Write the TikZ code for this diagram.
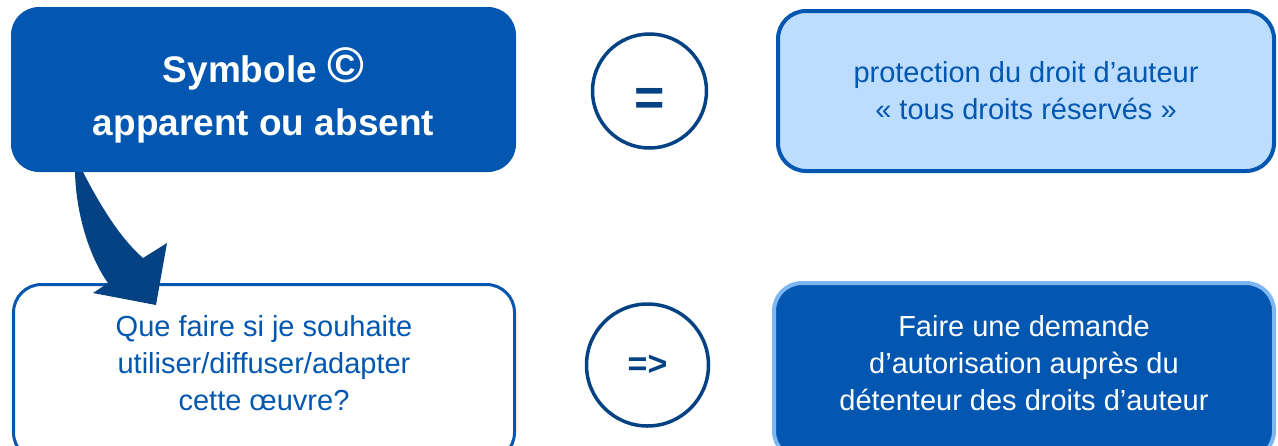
\documentclass[tikz,border=0pt]{standalone}
\usepackage{fontspec}
\setmainfont{Liberation Sans}

\definecolor{mainblue}{RGB}{3,87,176}
\definecolor{navy}{RGB}{4,66,132}
\definecolor{paleblue}{RGB}{189,221,255}
\definecolor{edgeblue}{RGB}{125,182,240}

\tikzset{
  box/.style={rounded corners=28pt, align=center, inner sep=0pt,
    minimum width=500pt, minimum height=176pt,
    font=\fontsize{29}{37}\selectfont},
  titlebox/.style={box, fill=mainblue, text=white,
    minimum width=505pt, minimum height=165pt,
    font=\fontsize{37}{53}\selectfont\bfseries},
  palebox/.style={box, draw=mainblue, line width=4pt, fill=paleblue, text=mainblue,
    minimum width=496pt, minimum height=160pt},
  questbox/.style={box, draw=mainblue, line width=3pt, fill=white, text=mainblue,
    minimum width=501pt},
  answerbox/.style={box, draw=edgeblue, line width=4pt, fill=mainblue, text=white},
  sign/.style={circle, draw=navy, line width=3.5pt, text=navy, inner sep=0pt,
    font=\bfseries},
}

\begin{document}
\begin{tikzpicture}[x=1pt, y=-1pt]
  \clip (0,0) rectangle (1278,445);

  % bottom row (boxes run past the lower edge)
  \node[questbox] (quest) at (264,372.5) {Que faire si je souhaite\\ utiliser/diffuser/adapter\\ cette œuvre?\rule[-19pt]{0pt}{0pt}};
  \node[sign, minimum size=122pt, font=\fontsize{34}{34}\selectfont\bfseries] (implies) at (647.5,365) {=>};
  \node[answerbox] (demande) at (1024,371) {Faire une demande\\ d’autorisation auprès du\\ détenteur des droits d’auteur\rule[-17pt]{0pt}{0pt}};

  % curved arrow from the title box down to the question
  \fill[navy] (75,172) -- (83,172) .. controls (100,205) and (120,238) .. (143,258)
    -- (167,243) -- (156,305) -- (93,293) -- (108,283)
    .. controls (90,258) and (76,215) .. (75,172) -- cycle;

  % top row
  \node[titlebox] (symbole) at (263.5,89.5) {\rule{0pt}{47pt}Symbole {\fontsize{50}{50}\selectfont ©}\\ apparent ou absent};
  \node[sign, minimum size=114pt, text height=49pt, text depth=0pt,
    font=\fontsize{52}{52}\selectfont\bfseries] (equals) at (649.5,91) {=};
  \node[palebox] (protection) at (1026,91) {protection du droit d’auteur\\ « tous droits réservés »};
\end{tikzpicture}
\end{document}
